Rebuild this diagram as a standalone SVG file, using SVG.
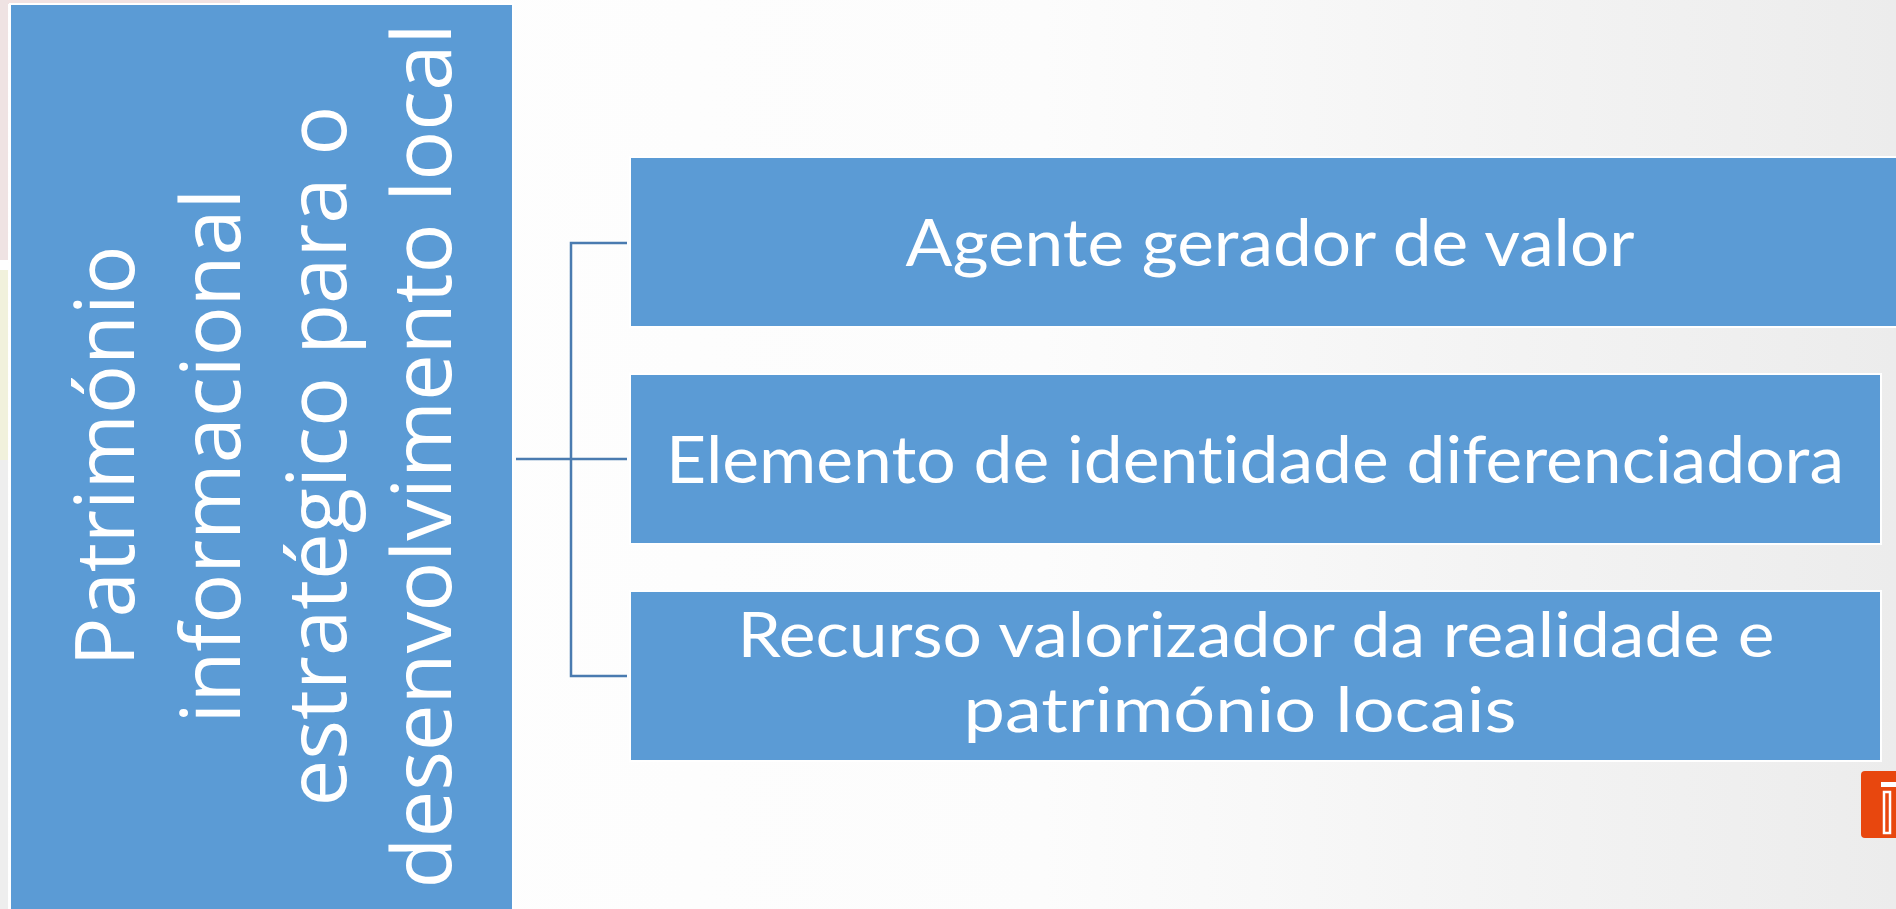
<svg xmlns="http://www.w3.org/2000/svg" width="1896" height="909" viewBox="0 0 1896 909">
  <defs>
    <linearGradient id="bg" x1="0" y1="0" x2="1" y2="0">
      <stop offset="0" stop-color="#ffffff"/>
      <stop offset="0.55" stop-color="#fcfcfc"/>
      <stop offset="1" stop-color="#ececec"/>
    </linearGradient>
    <style>
      .box { fill: #5b9bd5; stroke: #ffffff; stroke-width: 2; }
      .vt { font-family: "Open Sans", "DejaVu Sans", sans-serif; font-size: 83px; fill: #ffffff; text-anchor: middle; }
      .ht { font-family: Lato, "Liberation Sans", sans-serif; font-size: 66px; fill: #ffffff; text-anchor: middle; font-variant-ligatures: none; font-feature-settings: "liga" 0, "clig" 0; }
      .ht2 { font-size: 61px; }
      .conn { fill: none; stroke: #4a7bb0; stroke-width: 2.5; }
    </style>
  </defs>

  <rect x="0" y="0" width="1896" height="909" fill="url(#bg)"/>
  <!-- faint background decorations -->
  <rect x="0" y="0" width="240" height="4" fill="#f1e2e2"/>
  <rect x="0" y="0" width="8" height="260" fill="#efe3e3"/>
  <rect x="0" y="270" width="8" height="190" fill="#f1f1dc"/>
  <rect x="0" y="460" width="8" height="449" fill="#eeeeee"/>

  <g id="root">
    <rect class="box" x="10" y="4" width="503" height="920"/>
    <g transform="translate(0,456) rotate(-90)">
      <text class="vt" x="0" y="134" textLength="421" lengthAdjust="spacingAndGlyphs">Património</text>
      <text class="vt" x="0" y="240" textLength="535" lengthAdjust="spacingAndGlyphs">informacional</text>
      <text class="vt" x="0" y="346" textLength="701" lengthAdjust="spacingAndGlyphs">estratégico para o</text>
      <text class="vt" x="0" y="451" textLength="865" lengthAdjust="spacingAndGlyphs">desenvolvimento local</text>
    </g>
  </g>

  <g id="connectors">
    <path class="conn" d="M516,459 H627"/>
    <path class="conn" d="M627,243 H571 V676 H627"/>
  </g>

  <g id="node1">
    <rect class="box" x="630" y="157" width="1280" height="170"/>
    <text class="ht" x="1270" y="266" textLength="729" lengthAdjust="spacingAndGlyphs">Agente gerador de valor</text>
  </g>

  <g id="node2">
    <rect class="box" x="630" y="374" width="1251" height="170"/>
    <text class="ht" x="1255" y="483" textLength="1178" lengthAdjust="spacingAndGlyphs">Elemento de identidade diferenciadora</text>
  </g>

  <g id="node3">
    <rect class="box" x="630" y="591" width="1251" height="170"/>
    <text class="ht ht2"><tspan x="1256" y="657" textLength="1037" lengthAdjust="spacingAndGlyphs">Recurso valorizador da realidade e</tspan><tspan x="1240" y="732" textLength="553" lengthAdjust="spacingAndGlyphs">património locais</tspan></text>
  </g>

  <g id="icon">
    <rect x="1861" y="771" width="45" height="67" rx="4" fill="#e8470e"/>
    <rect x="1881" y="782" width="20" height="5" fill="#ffffff"/>
    <rect x="1884" y="792" width="6" height="41" fill="none" stroke="#ffffff" stroke-width="2.5"/>
  </g>
</svg>
